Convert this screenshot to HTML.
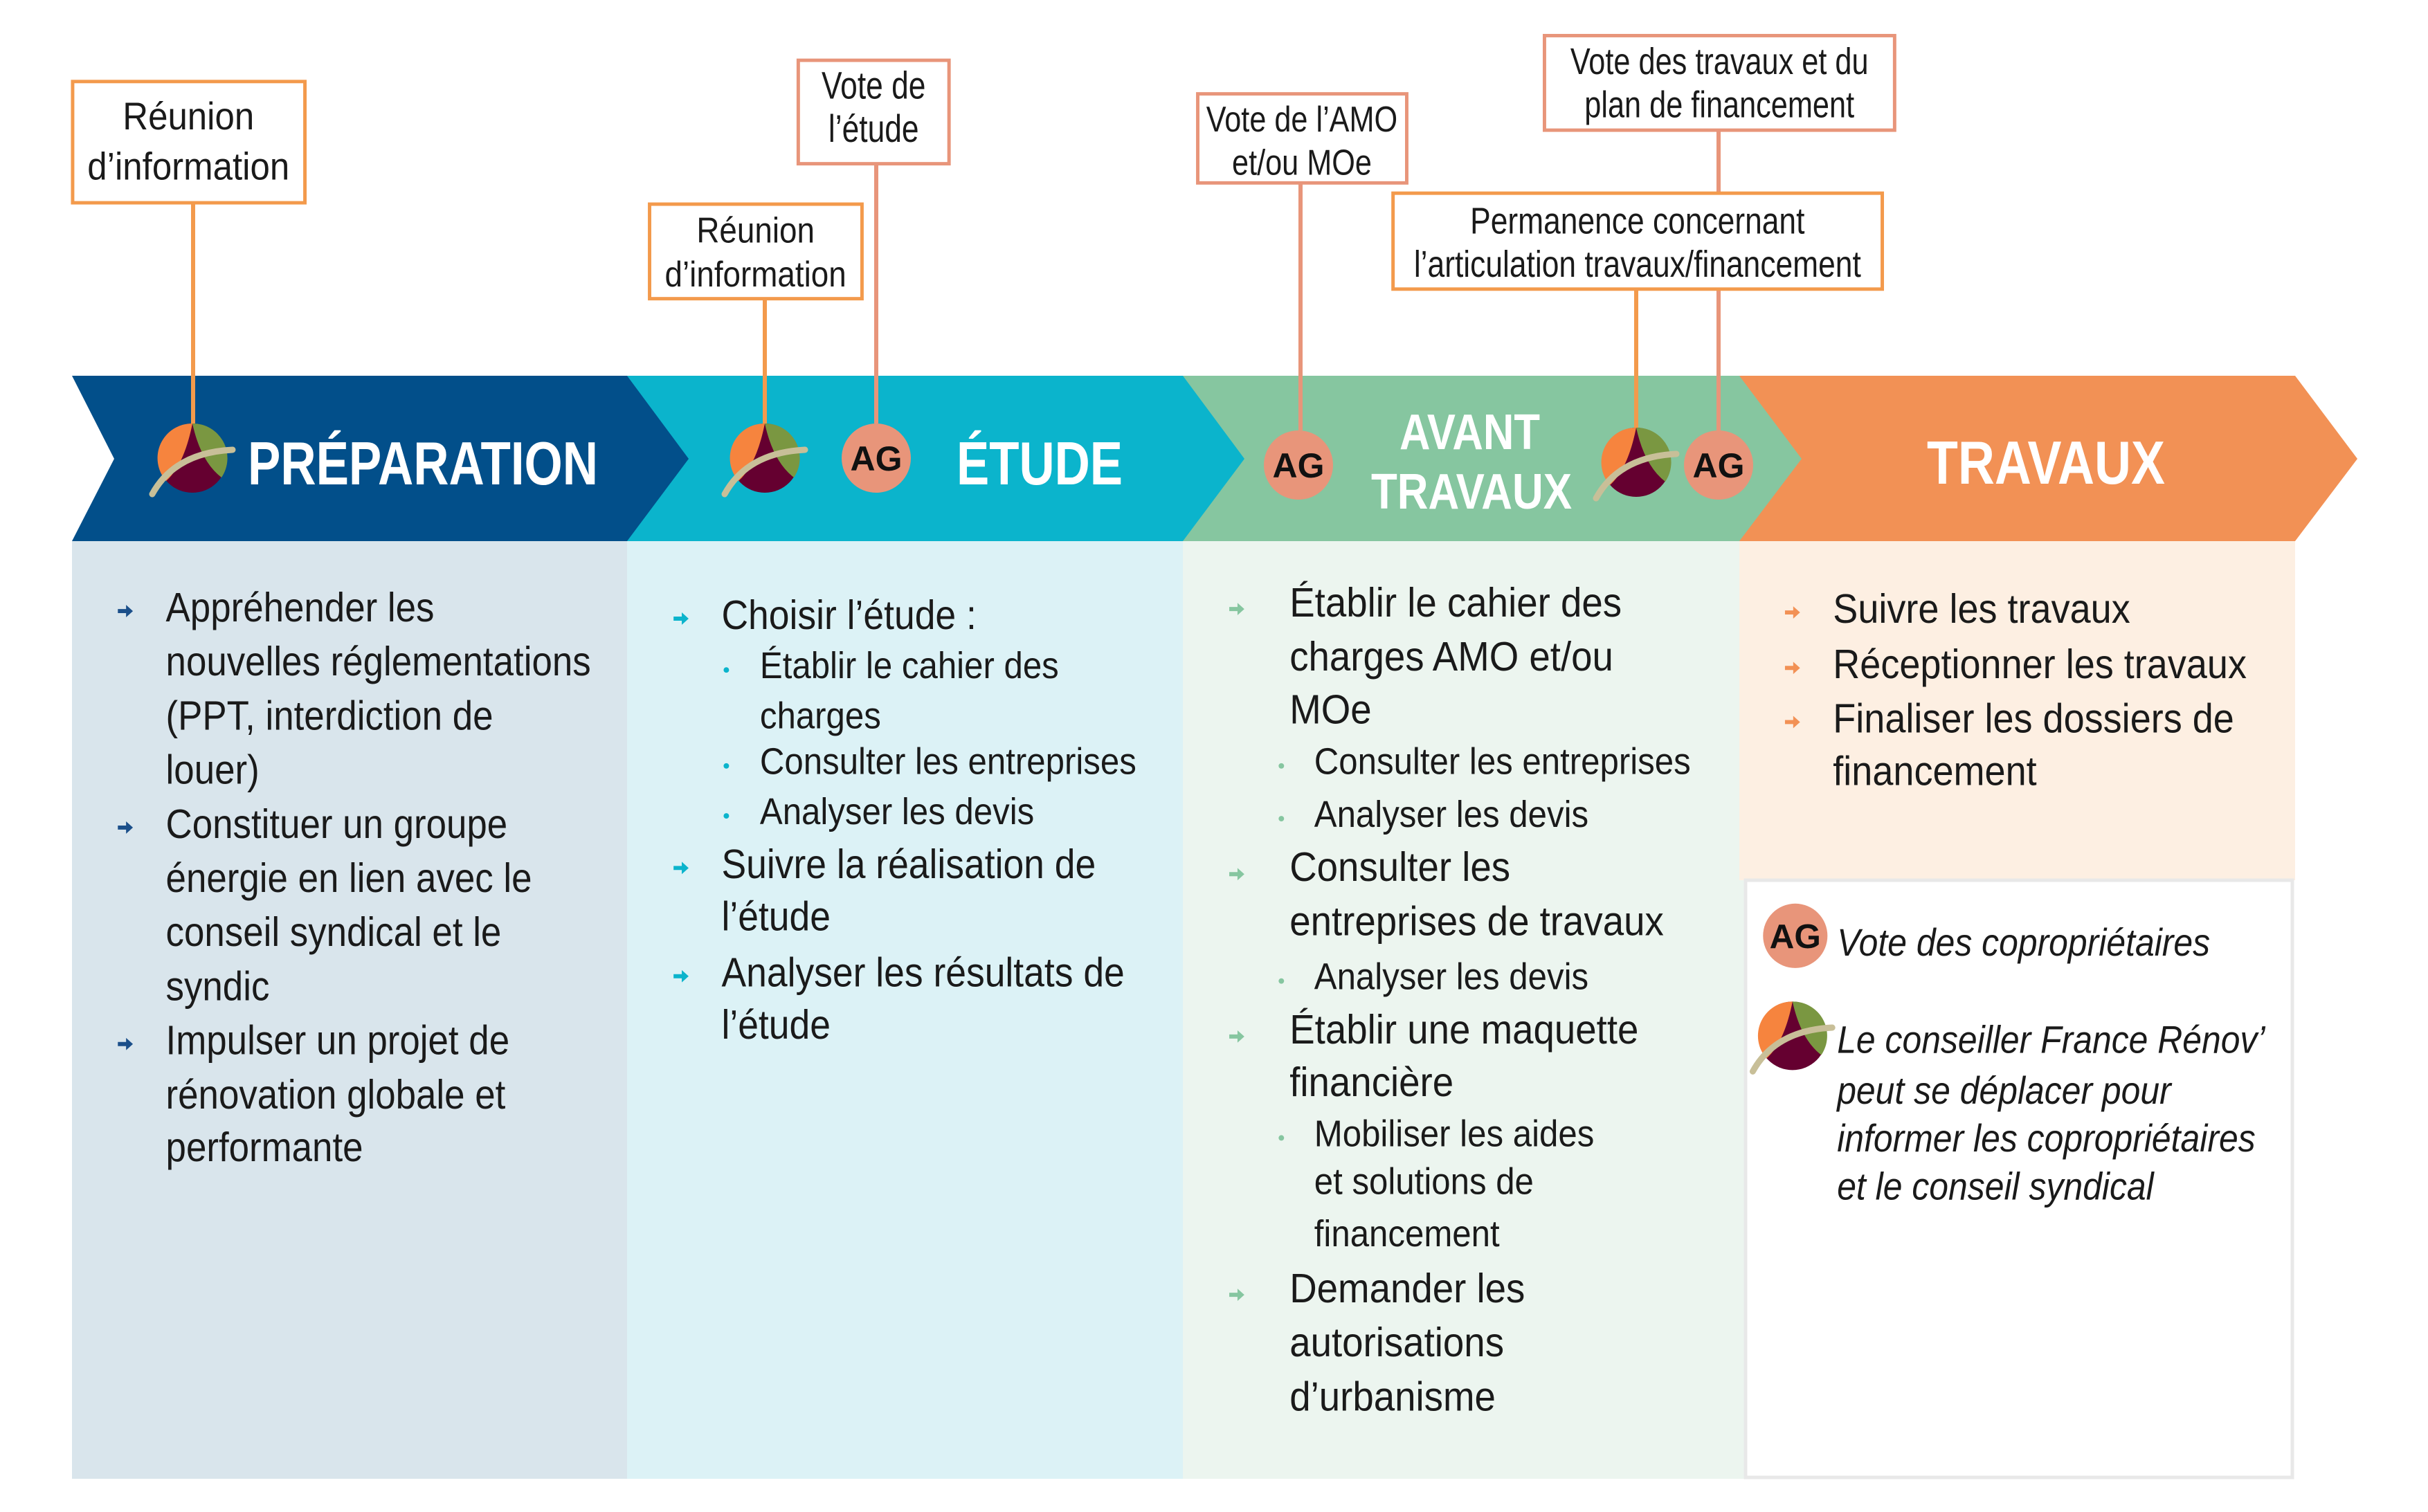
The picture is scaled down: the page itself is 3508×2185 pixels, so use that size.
<!DOCTYPE html>
<html><head><meta charset="utf-8"><style>
html,body{margin:0;padding:0;background:#fff}
svg{display:block}
text{font-family:"Liberation Sans Narrow","Liberation Sans",sans-serif;fill:#1a1a1a}
.b{font-size:60px}
.s{font-size:54px}
.c{font-size:56px;text-anchor:middle}
.h{font-weight:bold;fill:#fff}
.ag{font-size:50px;text-anchor:middle;font-weight:bold;fill:#111}
.i{font-size:56px;font-style:italic}
</style></head><body>
<svg width="3508" height="2185" viewBox="0 0 3508 2185" xmlns="http://www.w3.org/2000/svg">
<defs>
<g id="logo">
<circle r="50" fill="#650030"/>
<path d="M0,-50 A50,50 0 0 0 -38,33 Q-12,10 0,-50 Z" fill="#f6843e"/>
<path d="M0,-50 A50,50 0 0 1 42,28 Q12,5 0,-50 Z" fill="#7a9741"/>
<path d="M-58,52 Q-25,-8 58,-12" stroke="#c8bf98" stroke-width="9" fill="none" stroke-linecap="round"/>
</g>
<path id="arr" d="M0,-3 L12,-3 L12,-9 L22,0 L12,9 L12,3 L0,3 Z"/>
</defs>

<!-- body columns -->
<rect x="104" y="782" width="812" height="1355" fill="#d9e5ec"/>
<rect x="906" y="782" width="820" height="1355" fill="#dcf2f6"/>
<rect x="1709" y="782" width="820" height="1355" fill="#ecf5ef"/>
<rect x="2513" y="782" width="803" height="490" fill="#fdefe2"/>
<rect x="2522" y="1272" width="790" height="863" fill="#fff" stroke="#e8e8e8" stroke-width="5"/>

<!-- banner -->
<polygon points="2513,543 3316,543 3406,663 3316,782 2513,782" fill="#f29155"/>
<polygon points="1709,543 2513,543 2603,663 2513,782 1709,782" fill="#86c6a0"/>
<polygon points="906,543 1709,543 1798,663 1709,782 906,782" fill="#0bb4cc"/>
<polygon points="104,543 906,543 995,663 906,782 104,782 165,663" fill="#024f8a"/>

<!-- connectors -->
<g stroke-width="6">
<line x1="279" y1="293" x2="279" y2="612" stroke="#f39a4c"/>
<line x1="1105" y1="432" x2="1105" y2="612" stroke="#f39a4c"/>
<line x1="1266" y1="237" x2="1266" y2="612" stroke="#e8957a"/>
<line x1="1879" y1="264" x2="1879" y2="622" stroke="#e8957a"/>
<line x1="2364" y1="418" x2="2364" y2="618" stroke="#f39a4c"/>
<line x1="2483" y1="188" x2="2483" y2="622" stroke="#e8957a"/>
</g>

<!-- banner icons & titles -->
<use href="#logo" x="278" y="662"/>
<text class="h" x="358" y="700" font-size="88" textLength="506" lengthAdjust="spacingAndGlyphs">PRÉPARATION</text>
<use href="#logo" x="1105" y="662"/>
<circle cx="1266" cy="662" r="50" fill="#e8957a"/><text class="ag" x="1266" y="680">AG</text>
<text class="h" x="1382" y="700" font-size="88" textLength="240" lengthAdjust="spacingAndGlyphs">ÉTUDE</text>
<circle cx="1876" cy="672" r="50" fill="#e8957a"/><text class="ag" x="1876" y="690">AG</text>
<text class="h" x="2022" y="649" font-size="72" textLength="203" lengthAdjust="spacingAndGlyphs">AVANT</text>
<text class="h" x="1981" y="735" font-size="72" textLength="290" lengthAdjust="spacingAndGlyphs">TRAVAUX</text>
<use href="#logo" x="2364" y="668"/>
<circle cx="2483" cy="672" r="50" fill="#e8957a"/><text class="ag" x="2483" y="690">AG</text>
<text class="h" x="2784" y="699" font-size="88" textLength="344" lengthAdjust="spacingAndGlyphs">TRAVAUX</text>

<g transform="scale(0.99)">
<!-- callout boxes -->
<g fill="#fff" stroke-width="5">
<rect x="106" y="119" width="339" height="177" stroke="#f39a4c"/>
<rect x="1165" y="88" width="220" height="151" stroke="#e8957a"/>
<rect x="948" y="298" width="310" height="138" stroke="#f39a4c"/>
<rect x="1748" y="137" width="305" height="130" stroke="#e8957a"/>
<rect x="2254" y="52" width="511" height="138" stroke="#e8957a"/>
<rect x="2033" y="282" width="714" height="140" stroke="#f39a4c"/>
</g>
<g transform="matrix(0.92,0,0,1,22,0)">
<text class="c" x="275" y="189">Réunion</text>
<text class="c" x="275" y="262">d’information</text>
</g>
<g transform="matrix(0.8,0,0,1,255,0)">
<text class="c" x="1275" y="144">Vote de</text>
<text class="c" x="1275" y="207">l’étude</text>
</g>
<g transform="matrix(0.89,0,0,1,121,0)">
<text class="c" x="1103" y="354" style="font-size:52px">Réunion</text>
<text class="c" x="1103" y="418" style="font-size:52px">d’information</text>
</g>
<g transform="matrix(0.84,0,0,1,304,0)">
<text class="c" x="1900" y="192" style="font-size:52px">Vote de  l’AMO</text>
<text class="c" x="1900" y="255" style="font-size:52px">et/ou MOe</text>
</g>
<g transform="matrix(0.81,0,0,1,477,0)">
<text class="c" x="2509" y="108" style="font-size:54px">Vote des travaux et du</text>
<text class="c" x="2509" y="171" style="font-size:54px">plan de financement</text>
</g>
<g transform="matrix(0.83,0,0,1,406,0)">
<text class="c" x="2390" y="341" style="font-size:54px">Permanence concernant</text>
<text class="c" x="2390" y="404" style="font-size:54px">l’articulation travaux/financement</text>
</g>

<!-- Préparation body -->
<g fill="#1b4f8a">
<use href="#arr" x="172" y="892"/><use href="#arr" x="172" y="1208"/><use href="#arr" x="172" y="1524"/>
</g>
<g transform="matrix(0.89,0,0,1,26.6,0)">
<text class="b" x="242" y="907">Appréhender les</text>
<text class="b" x="242" y="986">nouvelles réglementations</text>
<text class="b" x="242" y="1065">(PPT, interdiction de</text>
<text class="b" x="242" y="1144">louer)</text>
<text class="b" x="242" y="1223">Constituer un groupe</text>
<text class="b" x="242" y="1302">énergie en lien avec le</text>
<text class="b" x="242" y="1381">conseil syndical et le</text>
<text class="b" x="242" y="1460">syndic</text>
<text class="b" x="242" y="1539">Impulser un projet de</text>
<text class="b" x="242" y="1618">rénovation globale et</text>
<text class="b" x="242" y="1695">performante</text>
</g>

<!-- Étude body -->
<g fill="#0bb4cc">
<use href="#arr" x="983" y="903"/><use href="#arr" x="983" y="1267"/><use href="#arr" x="983" y="1425"/>
<circle cx="1060" cy="978" r="4"/><circle cx="1060" cy="1118" r="4"/><circle cx="1060" cy="1191" r="4"/>
</g>
<g transform="matrix(0.9,0,0,1,105.3,0)">
<text class="b" x="1053" y="918">Choisir l’étude :</text>
<text class="b" x="1053" y="1282">Suivre la réalisation de</text>
<text class="b" x="1053" y="1358">l’étude</text>
<text class="b" x="1053" y="1440">Analyser les résultats de</text>
<text class="b" x="1053" y="1516">l’étude</text>
</g>
<g transform="matrix(0.92,0,0,1,88.7,0)">
<text class="s" x="1109" y="990">Établir le cahier des</text>
<text class="s" x="1109" y="1063">charges</text>
<text class="s" x="1109" y="1130">Consulter les entreprises</text>
<text class="s" x="1109" y="1203">Analyser les devis</text>
</g>

<!-- Avant travaux body -->
<g fill="#86c6a0">
<use href="#arr" x="1794" y="889"/><use href="#arr" x="1794" y="1276"/><use href="#arr" x="1794" y="1513"/><use href="#arr" x="1794" y="1890"/>
<circle cx="1870" cy="1118" r="4"/><circle cx="1870" cy="1195" r="4"/><circle cx="1870" cy="1432" r="4"/><circle cx="1870" cy="1661" r="4"/>
</g>
<g transform="matrix(0.92,0,0,1,150.6,0)">
<text class="b" x="1882" y="900">Établir le cahier des</text>
<text class="b" x="1882" y="979">charges AMO et/ou</text>
<text class="b" x="1882" y="1056">MOe</text>
<text class="b" x="1882" y="1286">Consulter les</text>
<text class="b" x="1882" y="1365">entreprises de travaux</text>
<text class="b" x="1882" y="1523">Établir une maquette</text>
<text class="b" x="1882" y="1600">financière</text>
<text class="b" x="1882" y="1901">Demander les</text>
<text class="b" x="1882" y="1980">autorisations</text>
<text class="b" x="1882" y="2059">d’urbanisme</text>
</g>
<g transform="matrix(0.92,0,0,1,153.4,0)">
<text class="s" x="1918" y="1130">Consulter les entreprises</text>
<text class="s" x="1918" y="1207">Analyser les devis</text>
<text class="s" x="1918" y="1444">Analyser les devis</text>
<text class="s" x="1918" y="1673">Mobiliser les aides</text>
<text class="s" x="1918" y="1743">et solutions de</text>
<text class="s" x="1918" y="1819">financement</text>
</g>

<!-- Travaux body -->
<g fill="#f29155">
<use href="#arr" x="2605" y="894"/><use href="#arr" x="2605" y="975"/><use href="#arr" x="2605" y="1054"/>
</g>
<g transform="matrix(0.91,0,0,1,240.8,0)">
<text class="b" x="2675" y="909">Suivre les travaux</text>
<text class="b" x="2675" y="990">Réceptionner les travaux</text>
<text class="b" x="2675" y="1069">Finaliser les dossiers de</text>
<text class="b" x="2675" y="1146">financement</text>
</g>

<!-- legend -->
<circle cx="2620" cy="1366" r="47" fill="#e8957a"/><text class="ag" x="2620" y="1384">AG</text>
<use href="#logo" x="2616" y="1512"/>
<g transform="matrix(0.9,0,0,1,268.1,0)">
<text class="i" x="2681" y="1395">Vote des copropriétaires</text>
<text class="i" x="2681" y="1537">Le conseiller France Rénov’</text>
<text class="i" x="2681" y="1611">peut se déplacer pour</text>
<text class="i" x="2681" y="1681">informer les copropriétaires</text>
<text class="i" x="2681" y="1751">et le conseil syndical</text>
</g>
</g>
</svg>
</body></html>
